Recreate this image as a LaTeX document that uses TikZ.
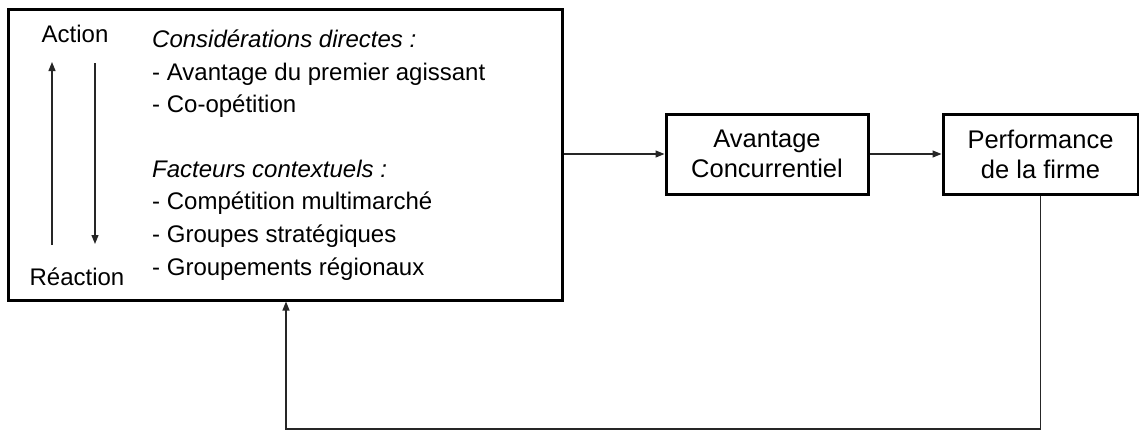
\documentclass[tikz,border=0pt]{standalone}
\usepackage{fontspec}
\setmainfont{Liberation Sans}
\usetikzlibrary{arrows.meta}
\begin{document}
\begin{tikzpicture}[x=1pt,y=-1pt,
  thickbox/.style={draw=black,line width=3pt,inner sep=0pt},
  txt/.style={font=\fontsize{24}{33}\selectfont,inner sep=0pt,anchor=base west},
  lbl/.style={font=\fontsize{24}{33}\selectfont,inner sep=0pt,anchor=base},
  boxtxt/.style={font=\fontsize{25.5}{30}\selectfont,align=center},
  conn/.style={draw=black!85,line width=1.2pt,-{Triangle[length=9pt,width=7pt]}}]
\useasboundingbox (0,0) rectangle (1139,431);
% main box
\node[thickbox,minimum width=554pt,minimum height=291pt] (main) at (285,154.5) {};
% left labels and arrows
\node[lbl] (action) at (75,42) {Action};
\node[lbl] (reaction) at (77,285) {Réaction};
\coordinate (uA) at (52,245);
\coordinate (uB) at (52,62);
\coordinate (dA) at (95,63);
\coordinate (dB) at (95,244);
\draw[conn] (uA) -- (uB);
\draw[conn] (dA) -- (dB);
% text lines
\node[txt] (t1) at (152,47) {\itshape Considérations directes :};
\node[txt] (t2) at (152,80) {- Avantage du premier agissant};
\node[txt] (t3) at (152,112) {- Co-opétition};
\node[txt] (t4) at (152,177) {\itshape Facteurs contextuels :};
\node[txt] (t5) at (152,209) {- Compétition multimarché};
\node[txt] (t6) at (152,242) {- Groupes stratégiques};
\node[txt] (t7) at (152,275) {- Groupements régionaux};
% right boxes
\node[thickbox,boxtxt,minimum width=202pt,minimum height=80pt] (avc) at (767,154) {Avantage\\Concurrentiel};
\node[thickbox,boxtxt,minimum width=195pt,minimum height=80pt] (perf) at (1040.5,154) {Performance\\de la firme};
% connectors
\draw[conn] (main.east |- avc.west) -- (avc.west);
\draw[conn] (avc.east) -- (perf.west);
\coordinate (fbR) at (perf.south |- 0,429);
\coordinate (fbL) at (286,429);
\draw[conn] (perf.south) -- (fbR) -- (fbL) -- (fbL |- main.south);
\end{tikzpicture}
\end{document}
